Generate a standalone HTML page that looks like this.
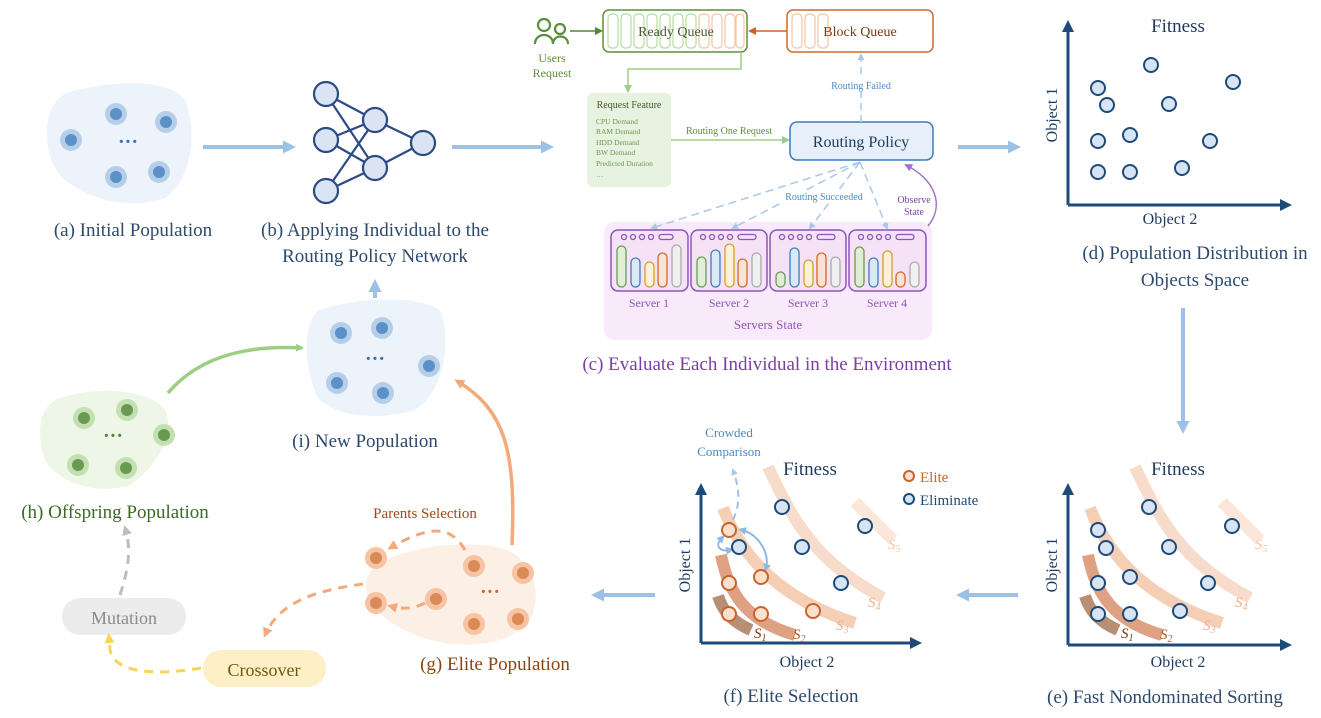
<!DOCTYPE html>
<html><head><meta charset="utf-8"><style>
html,body{margin:0;padding:0;background:#fff}
svg{display:block;font-family:"Liberation Serif",serif}
</style></head><body>
<svg width="1321" height="718" viewBox="0 0 1321 718" xmlns="http://www.w3.org/2000/svg">
<defs>
<marker id="ab" markerWidth="13" markerHeight="13" refX="9" refY="6.5" orient="auto" markerUnits="userSpaceOnUse"><path d="M0,0 L13,6.5 L0,13z" fill="#9dc1e6"/></marker>
<marker id="abs" markerWidth="7" markerHeight="7" refX="5" refY="3.5" orient="auto" markerUnits="userSpaceOnUse"><path d="M0,0 L7,3.5 L0,7z" fill="#a9c8e8"/></marker>
<marker id="abs2" markerWidth="8" markerHeight="8" refX="4" refY="4" orient="auto-start-reverse" markerUnits="userSpaceOnUse"><path d="M0,0 L8,4 L0,8z" fill="#8fb8e2"/></marker>
<marker id="ag" markerWidth="8" markerHeight="8" refX="6" refY="4" orient="auto" markerUnits="userSpaceOnUse"><path d="M0,0 L8,4 L0,8z" fill="#9ccf84"/></marker>
<marker id="agd" markerWidth="8" markerHeight="8" refX="6" refY="4" orient="auto" markerUnits="userSpaceOnUse"><path d="M0,0 L8,4 L0,8z" fill="#4f8a32"/></marker>
<marker id="ao" markerWidth="10" markerHeight="10" refX="7" refY="5" orient="auto" markerUnits="userSpaceOnUse"><path d="M0,0 L10,5 L0,10z" fill="#f4a97a"/></marker>
<marker id="aod" markerWidth="8" markerHeight="8" refX="6" refY="4" orient="auto" markerUnits="userSpaceOnUse"><path d="M0,0 L8,4 L0,8z" fill="#cc6326"/></marker>
<marker id="ay" markerWidth="10" markerHeight="10" refX="7" refY="5" orient="auto" markerUnits="userSpaceOnUse"><path d="M0,0 L10,5 L0,10z" fill="#f9d35a"/></marker>
<marker id="agr" markerWidth="10" markerHeight="10" refX="7" refY="5" orient="auto" markerUnits="userSpaceOnUse"><path d="M0,0 L10,5 L0,10z" fill="#bdbdbd"/></marker>
<marker id="ap" markerWidth="8" markerHeight="8" refX="6" refY="4" orient="auto" markerUnits="userSpaceOnUse"><path d="M0,0 L8,4 L0,8z" fill="#a670c8"/></marker>
<marker id="an" markerWidth="12" markerHeight="12" refX="8" refY="6" orient="auto" markerUnits="userSpaceOnUse"><path d="M0,0 L12,6 L0,12z" fill="#1e4a7a"/></marker>
</defs>

<g stroke="#9dc1e6" stroke-width="4" fill="none" marker-end="url(#ab)">
<line x1="203" y1="147" x2="292" y2="147"/>
<line x1="452" y1="147" x2="550" y2="147"/>
<line x1="958" y1="147" x2="1017" y2="147"/>
<line x1="1183" y1="308" x2="1183" y2="430"/>
<line x1="1018" y1="595" x2="960" y2="595"/>
<line x1="655" y1="595" x2="595" y2="595"/>
<line x1="375" y1="298" x2="375" y2="283"/>
</g>

<path d="M70,92 C110,80 170,78 185,100 C198,130 192,180 165,198 C130,210 90,200 65,180 C40,160 40,100 70,92z" fill="#edf3fa"/>
<g>
<circle cx="71" cy="140" r="11" fill="#b6cfe9"/><circle cx="71" cy="140" r="6" fill="#5b90c8"/>
<circle cx="116" cy="114" r="11" fill="#b6cfe9"/><circle cx="116" cy="114" r="6" fill="#5b90c8"/>
<circle cx="166" cy="122" r="11" fill="#b6cfe9"/><circle cx="166" cy="122" r="6" fill="#5b90c8"/>
<circle cx="116" cy="177" r="11" fill="#b6cfe9"/><circle cx="116" cy="177" r="6" fill="#5b90c8"/>
<circle cx="159" cy="172" r="11" fill="#b6cfe9"/><circle cx="159" cy="172" r="6" fill="#5b90c8"/>
<text x="128" y="148" font-size="20" fill="#3b72b0" text-anchor="middle" font-weight="bold">···</text>
</g>
<text x="133" y="236" font-size="19" fill="#2c4a6e" text-anchor="middle">(a) Initial Population</text>

<g stroke="#2c4a86" stroke-width="2.2">
<line x1="326" y1="94" x2="375" y2="120"/><line x1="326" y1="94" x2="375" y2="168"/>
<line x1="326" y1="140" x2="375" y2="120"/><line x1="326" y1="140" x2="375" y2="168"/>
<line x1="326" y1="191" x2="375" y2="120"/><line x1="326" y1="191" x2="375" y2="168"/>
<line x1="375" y1="120" x2="423" y2="143"/><line x1="375" y1="168" x2="423" y2="143"/>
</g>
<g fill="#dbe4f3" stroke="#2c4a86" stroke-width="2.2">
<circle cx="326" cy="94" r="12"/><circle cx="326" cy="140" r="12"/><circle cx="326" cy="191" r="12"/>
<circle cx="375" cy="120" r="12"/><circle cx="375" cy="168" r="12"/><circle cx="423" cy="143" r="12"/>
</g>
<text x="375" y="236" font-size="19" fill="#2c4a6e" text-anchor="middle">(b) Applying Individual to the</text>
<text x="375" y="262" font-size="19" fill="#2c4a6e" text-anchor="middle">Routing Policy Network</text>

<g fill="none" stroke="#5c8f3a" stroke-width="2.2">
<circle cx="544" cy="25" r="6"/><path d="M535,44 C535,32 553,32 553,44"/>
<circle cx="560" cy="29" r="5"/><path d="M553,44 C553,34 568,34 568,44"/>
</g>
<text x="552" y="62" font-size="12" fill="#5c8f3a" text-anchor="middle">Users</text>
<text x="552" y="77" font-size="12" fill="#5c8f3a" text-anchor="middle">Request</text>
<line x1="570" y1="31" x2="601" y2="31" stroke="#4f8a32" stroke-width="1.5" marker-end="url(#agd)"/>
<rect x="603" y="10" width="144" height="42" rx="6" fill="#fff" stroke="#5c8f3a" stroke-width="1.5"/>
<g fill="none" stroke-width="1.2">
<g stroke="#b6dba0">
<rect x="608" y="14" width="10" height="34" rx="4"/><rect x="621" y="14" width="10" height="34" rx="4"/><rect x="634" y="14" width="10" height="34" rx="4"/><rect x="647" y="14" width="10" height="34" rx="4"/><rect x="660" y="14" width="10" height="34" rx="4"/><rect x="673" y="14" width="10" height="34" rx="4"/><rect x="686" y="14" width="10" height="34" rx="4"/>
</g>
<g stroke="#f6c3a3">
<rect x="699" y="14" width="10" height="34" rx="4"/><rect x="712" y="14" width="10" height="34" rx="4"/><rect x="725" y="14" width="10" height="34" rx="4"/><rect x="736" y="14" width="8" height="34" rx="4"/>
<rect x="792" y="14" width="10" height="34" rx="4"/><rect x="805" y="14" width="10" height="34" rx="4"/><rect x="818" y="14" width="10" height="34" rx="4"/>
</g>
</g>
<text x="676" y="36" font-size="14" fill="#4a5a3a" text-anchor="middle">Ready Queue</text>
<rect x="787" y="10" width="146" height="42" rx="6" fill="none" stroke="#d0692a" stroke-width="1.5"/>
<text x="860" y="36" font-size="14" fill="#7a3a15" text-anchor="middle">Block Queue</text>
<line x1="787" y1="31" x2="750" y2="31" stroke="#cc6326" stroke-width="1.5" marker-end="url(#aod)"/>
<path d="M741,52 L741,69 L628,69 L628,91" fill="none" stroke="#9ccf84" stroke-width="1.5" marker-end="url(#ag)"/>
<rect x="587" y="93" width="84" height="94" rx="6" fill="#e8f2e0"/>
<text x="629" y="108" font-size="10" fill="#3c5a2a" text-anchor="middle">Request Feature</text>
<g font-size="7.5" fill="#6a9a52">
<text x="596" y="124">CPU Demand</text><text x="596" y="134">RAM Demand</text><text x="596" y="145">HDD Demand</text><text x="596" y="155">BW Demand</text><text x="596" y="166">Predicted Duration</text><text x="596" y="177">…</text>
</g>
<line x1="671" y1="140" x2="788" y2="140" stroke="#9ccf84" stroke-width="1.5" marker-end="url(#ag)"/>
<text x="729" y="134" font-size="10" fill="#5c8f3a" text-anchor="middle">Routing One Request</text>
<rect x="790" y="122" width="143" height="38" rx="7" fill="#e6effa" stroke="#3b7bbf" stroke-width="1.5"/>
<text x="861" y="147" font-size="16" fill="#1f3b5e" text-anchor="middle">Routing Policy</text>
<line x1="861" y1="122" x2="861" y2="55" stroke="#a9c8e8" stroke-width="1.5" stroke-dasharray="7,5" marker-end="url(#abs)"/>
<rect x="823" y="79" width="76" height="12" fill="#fff"/>
<text x="861" y="89" font-size="10" fill="#4a8ac4" text-anchor="middle">Routing Failed</text>
<rect x="604" y="222" width="328" height="118" rx="10" fill="#f9eafb"/>
<g stroke="#a9c8e8" stroke-width="1.5" stroke-dasharray="8,5" fill="none" marker-end="url(#abs)">
<line x1="860" y1="162" x2="652" y2="228"/>
<line x1="860" y1="162" x2="733" y2="228"/>
<line x1="860" y1="162" x2="810" y2="228"/>
<line x1="860" y1="162" x2="887" y2="228"/>
</g>
<rect x="780" y="190" width="88" height="12" fill="#fff"/>
<text x="824" y="200" font-size="10" fill="#4a8ac4" text-anchor="middle">Routing Succeeded</text>
<path d="M928,226 C945,205 935,180 906,165" fill="none" stroke="#a670c8" stroke-width="1.5" marker-end="url(#ap)"/>
<text x="914" y="203" font-size="10" fill="#7b3fa6" text-anchor="middle">Observe</text>
<text x="914" y="215" font-size="10" fill="#7b3fa6" text-anchor="middle">State</text>
<rect x="611" y="230" width="77" height="61" rx="7" fill="#f5e2f7" stroke="#8f55b8" stroke-width="1.5"/>
<rect x="691" y="230" width="76" height="61" rx="7" fill="#f5e2f7" stroke="#8f55b8" stroke-width="1.5"/>
<rect x="770" y="230" width="76" height="61" rx="7" fill="#f5e2f7" stroke="#8f55b8" stroke-width="1.5"/>
<rect x="849" y="230" width="77" height="61" rx="7" fill="#f5e2f7" stroke="#8f55b8" stroke-width="1.5"/>
<g fill="none" stroke="#8f55b8" stroke-width="1.3">
<circle cx="624" cy="237" r="2.5"/><circle cx="633" cy="237" r="2.5"/><circle cx="642" cy="237" r="2.5"/><circle cx="651" cy="237" r="2.5"/><rect x="659" y="234.5" width="14" height="5" rx="2.5"/>
<circle cx="703" cy="237" r="2.5"/><circle cx="712" cy="237" r="2.5"/><circle cx="721" cy="237" r="2.5"/><circle cx="730" cy="237" r="2.5"/><rect x="738" y="234.5" width="18" height="5" rx="2.5"/>
<circle cx="782" cy="237" r="2.5"/><circle cx="791" cy="237" r="2.5"/><circle cx="800" cy="237" r="2.5"/><circle cx="809" cy="237" r="2.5"/><rect x="817" y="234.5" width="18" height="5" rx="2.5"/>
<circle cx="861" cy="237" r="2.5"/><circle cx="870" cy="237" r="2.5"/><circle cx="879" cy="237" r="2.5"/><circle cx="888" cy="237" r="2.5"/><rect x="896" y="234.5" width="18" height="5" rx="2.5"/>
</g>
<g stroke-width="1.3">
<rect x="617" y="246" width="9" height="41" rx="4.5" fill="#dfeed4" stroke="#6a9a52"/>
<rect x="631" y="258" width="9" height="29" rx="4.5" fill="#dbe8f6" stroke="#3b7bbf"/>
<rect x="645" y="262" width="9" height="25" rx="4.5" fill="#fbf0da" stroke="#d4a020"/>
<rect x="658" y="253" width="9" height="34" rx="4.5" fill="#fbe2d4" stroke="#d0692a"/>
<rect x="672" y="245" width="9" height="42" rx="4.5" fill="#f0f0f0" stroke="#aaa"/>
<rect x="697" y="257" width="9" height="30" rx="4.5" fill="#dfeed4" stroke="#6a9a52"/>
<rect x="711" y="250" width="9" height="37" rx="4.5" fill="#dbe8f6" stroke="#3b7bbf"/>
<rect x="725" y="244" width="9" height="43" rx="4.5" fill="#fbf0da" stroke="#d4a020"/>
<rect x="738" y="259" width="9" height="28" rx="4.5" fill="#fbe2d4" stroke="#d0692a"/>
<rect x="752" y="253" width="9" height="34" rx="4.5" fill="#f0f0f0" stroke="#aaa"/>
<rect x="776" y="272" width="9" height="15" rx="4.5" fill="#dfeed4" stroke="#6a9a52"/>
<rect x="790" y="248" width="9" height="39" rx="4.5" fill="#dbe8f6" stroke="#3b7bbf"/>
<rect x="804" y="260" width="9" height="27" rx="4.5" fill="#fbf0da" stroke="#d4a020"/>
<rect x="817" y="253" width="9" height="34" rx="4.5" fill="#fbe2d4" stroke="#d0692a"/>
<rect x="831" y="257" width="9" height="30" rx="4.5" fill="#f0f0f0" stroke="#aaa"/>
<rect x="855" y="247" width="9" height="40" rx="4.5" fill="#dfeed4" stroke="#6a9a52"/>
<rect x="869" y="258" width="9" height="29" rx="4.5" fill="#dbe8f6" stroke="#3b7bbf"/>
<rect x="883" y="251" width="9" height="36" rx="4.5" fill="#fbf0da" stroke="#d4a020"/>
<rect x="896" y="272" width="9" height="15" rx="4.5" fill="#fbe2d4" stroke="#d0692a"/>
<rect x="910" y="262" width="9" height="25" rx="4.5" fill="#f0f0f0" stroke="#aaa"/>
</g>
<g font-size="12" fill="#8f55b8" text-anchor="middle">
<text x="649" y="307">Server 1</text><text x="729" y="307">Server 2</text><text x="808" y="307">Server 3</text><text x="887" y="307">Server 4</text>
<text x="768" y="329" font-size="13">Servers State</text>
</g>
<text x="767" y="370" font-size="19" fill="#7b3fa6" text-anchor="middle">(c) Evaluate Each Individual in the Environment</text>

<g stroke="#1e4a7a" stroke-width="3" fill="none">
<line x1="1068" y1="205" x2="1068" y2="24" marker-end="url(#an)"/>
<line x1="1068" y1="205" x2="1288" y2="205" marker-end="url(#an)"/>
</g>
<text x="1178" y="32" font-size="19" fill="#1e3a5e" text-anchor="middle">Fitness</text>
<text x="1170" y="224" font-size="16" fill="#1e3a5e" text-anchor="middle">Object 2</text>
<text transform="translate(1057,115) rotate(-90)" font-size="16" fill="#1e3a5e" text-anchor="middle">Object 1</text>
<g fill="#d6e4f3" stroke="#1e4a7a" stroke-width="2">
<circle cx="1098" cy="88" r="7"/><circle cx="1151" cy="65" r="7"/><circle cx="1233" cy="82" r="7"/><circle cx="1107" cy="105" r="7"/><circle cx="1169" cy="104" r="7"/><circle cx="1098" cy="141" r="7"/><circle cx="1130" cy="135" r="7"/><circle cx="1210" cy="141" r="7"/><circle cx="1098" cy="172" r="7"/><circle cx="1130" cy="172" r="7"/><circle cx="1182" cy="168" r="7"/>
</g>
<text x="1195" y="259" font-size="19" fill="#2c4a6e" text-anchor="middle">(d) Population Distribution in</text>
<text x="1195" y="286" font-size="19" fill="#2c4a6e" text-anchor="middle">Objects Space</text>

<g id="bandsE" fill="none" stroke-width="12">
<path d="M1260,540 C1245,525 1235,515 1222,502" stroke="#fbe7da"/>
<path d="M1250,598 C1180,560 1160,520 1135,467" stroke="#f8dccb"/>
<path d="M1222,623 C1150,600 1110,560 1090,508" stroke="#f5cfb5"/>
<path d="M1162,635 C1110,620 1095,590 1088,555" stroke="#dea184"/>
<path d="M1118,630 C1100,622 1090,612 1085,596" stroke="#b88e75"/>
</g>
<g stroke="#1e4a7a" stroke-width="3" fill="none">
<line x1="1068" y1="645" x2="1068" y2="487" marker-end="url(#an)"/>
<line x1="1068" y1="645" x2="1288" y2="645" marker-end="url(#an)"/>
</g>
<text x="1178" y="475" font-size="19" fill="#1e3a5e" text-anchor="middle">Fitness</text>
<text x="1178" y="667" font-size="16" fill="#1e3a5e" text-anchor="middle">Object 2</text>
<text transform="translate(1057,565) rotate(-90)" font-size="16" fill="#1e3a5e" text-anchor="middle">Object 1</text>
<g fill="#d6e4f3" stroke="#1e4a7a" stroke-width="2">
<circle cx="1098" cy="530" r="7"/><circle cx="1106" cy="548" r="7"/><circle cx="1149" cy="507" r="7"/><circle cx="1169" cy="547" r="7"/><circle cx="1232" cy="526" r="7"/><circle cx="1098" cy="583" r="7"/><circle cx="1130" cy="577" r="7"/><circle cx="1208" cy="583" r="7"/><circle cx="1098" cy="614" r="7"/><circle cx="1130" cy="614" r="7"/><circle cx="1180" cy="611" r="7"/>
</g>
<g font-size="15" font-style="italic">
<text x="1121" y="638" fill="#7a3a15">S<tspan font-size="10" dy="3">1</tspan></text>
<text x="1160" y="639" fill="#b45a25">S<tspan font-size="10" dy="3">2</tspan></text>
<text x="1203" y="630" fill="#f0b088">S<tspan font-size="10" dy="3">3</tspan></text>
<text x="1235" y="607" fill="#f0b088">S<tspan font-size="10" dy="3">4</tspan></text>
<text x="1255" y="549" fill="#f5c6a6">S<tspan font-size="10" dy="3">5</tspan></text>
</g>
<text x="1165" y="703" font-size="19" fill="#2c4a6e" text-anchor="middle">(e) Fast Nondominated Sorting</text>

<g transform="translate(-367,0)">
<use href="#bandsE"/>
</g>
<g stroke="#1e4a7a" stroke-width="3" fill="none">
<line x1="701" y1="643" x2="701" y2="487" marker-end="url(#an)"/>
<line x1="701" y1="643" x2="918" y2="643" marker-end="url(#an)"/>
</g>
<text x="810" y="475" font-size="19" fill="#1e3a5e" text-anchor="middle">Fitness</text>
<text x="807" y="667" font-size="16" fill="#1e3a5e" text-anchor="middle">Object 2</text>
<text transform="translate(690,565) rotate(-90)" font-size="16" fill="#1e3a5e" text-anchor="middle">Object 1</text>
<path d="M733,520 C742,500 738,485 733,470" fill="none" stroke="#9dc1e6" stroke-width="2" stroke-dasharray="7,5" marker-end="url(#abs)"/>
<path d="M742,530 C760,535 770,555 766,568" fill="none" stroke="#8fb8e2" stroke-width="2" marker-start="url(#abs2)" marker-end="url(#abs2)"/>
<path d="M722,538 C714,546 720,552 730,550" fill="none" stroke="#8fb8e2" stroke-width="2" marker-start="url(#abs2)" marker-end="url(#abs2)"/>
<text x="729" y="437" font-size="13" fill="#4a8ac4" text-anchor="middle">Crowded</text>
<text x="729" y="456" font-size="13" fill="#4a8ac4" text-anchor="middle">Comparison</text>
<g fill="#d6e4f3" stroke="#1e4a7a" stroke-width="2">
<circle cx="782" cy="507" r="7"/><circle cx="865" cy="526" r="7"/><circle cx="739" cy="547" r="7"/><circle cx="802" cy="547" r="7"/><circle cx="841" cy="583" r="7"/>
</g>
<g fill="#fbe0d0" stroke="#cc6326" stroke-width="2">
<circle cx="729" cy="530" r="7"/><circle cx="761" cy="577" r="7"/><circle cx="729" cy="583" r="7"/><circle cx="729" cy="614" r="7"/><circle cx="761" cy="614" r="7"/><circle cx="813" cy="611" r="7"/>
</g>
<g font-size="15" font-style="italic">
<text x="754" y="638" fill="#7a3a15">S<tspan font-size="10" dy="3">1</tspan></text>
<text x="793" y="639" fill="#b45a25">S<tspan font-size="10" dy="3">2</tspan></text>
<text x="836" y="630" fill="#f0b088">S<tspan font-size="10" dy="3">3</tspan></text>
<text x="868" y="607" fill="#f0b088">S<tspan font-size="10" dy="3">4</tspan></text>
<text x="888" y="549" fill="#f5c6a6">S<tspan font-size="10" dy="3">5</tspan></text>
</g>
<circle cx="909" cy="476" r="5" fill="#fbe0d0" stroke="#cc6326" stroke-width="2"/>
<text x="920" y="482" font-size="15" fill="#cc6326">Elite</text>
<circle cx="909" cy="499" r="5" fill="#d6e4f3" stroke="#1e4a7a" stroke-width="2"/>
<text x="920" y="505" font-size="15" fill="#1e4a7a">Eliminate</text>
<text x="791" y="702" font-size="19" fill="#2c4a6e" text-anchor="middle">(f) Elite Selection</text>

<path d="M320,310 C360,296 420,296 440,310 C452,340 445,390 415,410 C380,420 340,418 320,400 C305,380 300,320 320,310z" fill="#edf3fa"/>
<g>
<circle cx="341" cy="333" r="11" fill="#b6cfe9"/><circle cx="341" cy="333" r="6" fill="#5b90c8"/>
<circle cx="382" cy="328" r="11" fill="#b6cfe9"/><circle cx="382" cy="328" r="6" fill="#5b90c8"/>
<circle cx="429" cy="366" r="11" fill="#b6cfe9"/><circle cx="429" cy="366" r="6" fill="#5b90c8"/>
<circle cx="337" cy="383" r="11" fill="#b6cfe9"/><circle cx="337" cy="383" r="6" fill="#5b90c8"/>
<circle cx="383" cy="393" r="11" fill="#b6cfe9"/><circle cx="383" cy="393" r="6" fill="#5b90c8"/>
<text x="375" y="365" font-size="20" fill="#3b72b0" text-anchor="middle" font-weight="bold">···</text>
</g>
<text x="365" y="447" font-size="19" fill="#2c4a6e" text-anchor="middle">(i) New Population</text>

<path d="M60,398 C100,385 150,390 165,410 C175,430 160,465 130,485 C100,495 60,485 45,460 C35,430 40,405 60,398z" fill="#eef6e8"/>
<g>
<circle cx="84" cy="418" r="11" fill="#c3e0b0"/><circle cx="84" cy="418" r="6" fill="#6a9a52"/>
<circle cx="127" cy="410" r="11" fill="#c3e0b0"/><circle cx="127" cy="410" r="6" fill="#6a9a52"/>
<circle cx="164" cy="435" r="11" fill="#c3e0b0"/><circle cx="164" cy="435" r="6" fill="#6a9a52"/>
<circle cx="78" cy="465" r="11" fill="#c3e0b0"/><circle cx="78" cy="465" r="6" fill="#6a9a52"/>
<circle cx="126" cy="468" r="11" fill="#c3e0b0"/><circle cx="126" cy="468" r="6" fill="#6a9a52"/>
<text x="113" y="442" font-size="20" fill="#4f8a32" text-anchor="middle" font-weight="bold">···</text>
</g>
<path d="M168,393 C200,355 250,345 302,348" fill="none" stroke="#9ccf84" stroke-width="3.5" marker-end="url(#ag)"/>
<text x="115" y="518" font-size="19" fill="#3c6a26" text-anchor="middle">(h) Offspring Population</text>

<path d="M375,565 C410,545 470,540 500,548 C530,555 545,590 530,620 C510,645 470,650 430,640 C395,630 345,600 375,565z" fill="#fcf0e6"/>
<g>
<circle cx="474" cy="566" r="11" fill="#f6c3a3"/><circle cx="474" cy="566" r="6" fill="#d98a57"/>
<circle cx="523" cy="573" r="11" fill="#f6c3a3"/><circle cx="523" cy="573" r="6" fill="#d98a57"/>
<circle cx="436" cy="599" r="11" fill="#f6c3a3"/><circle cx="436" cy="599" r="6" fill="#d98a57"/>
<circle cx="474" cy="624" r="11" fill="#f6c3a3"/><circle cx="474" cy="624" r="6" fill="#d98a57"/>
<circle cx="518" cy="619" r="11" fill="#f6c3a3"/><circle cx="518" cy="619" r="6" fill="#d98a57"/>
<text x="490" y="598" font-size="20" fill="#d0692a" text-anchor="middle" font-weight="bold">···</text>
<circle cx="376" cy="558" r="11" fill="#f6c3a3"/><circle cx="376" cy="558" r="6" fill="#d98a57"/>
<circle cx="376" cy="603" r="11" fill="#f6c3a3"/><circle cx="376" cy="603" r="6" fill="#d98a57"/>
</g>
<path d="M512,545 C516,450 505,410 457,381" fill="none" stroke="#f4a97a" stroke-width="3.5" marker-end="url(#ao)"/>
<text x="425" y="518" font-size="15" fill="#9a4a1a" text-anchor="middle">Parents Selection</text>
<g fill="none" stroke="#f4a97a" stroke-width="3" stroke-dasharray="9,7">
<path d="M465,550 C450,525 430,525 390,548" marker-end="url(#ao)"/>
<path d="M425,603 C415,608 405,610 390,606" marker-end="url(#ao)"/>
<path d="M363,584 C320,590 280,600 265,635" marker-end="url(#ao)"/>
</g>
<rect x="62" y="598" width="124" height="37" rx="18" fill="#ececec"/>
<text x="124" y="624" font-size="18" fill="#8a8a8a" text-anchor="middle">Mutation</text>
<rect x="203" y="650" width="123" height="37" rx="18" fill="#fdf0c6"/>
<text x="264" y="676" font-size="18" fill="#6b5a10" text-anchor="middle">Crossover</text>
<path d="M201,668 C160,675 115,675 110,650 L109,636" fill="none" stroke="#f9d35a" stroke-width="3" stroke-dasharray="9,7" marker-end="url(#ay)"/>
<path d="M120,595 C128,570 132,550 125,528" fill="none" stroke="#bdbdbd" stroke-width="3" stroke-dasharray="9,7" marker-end="url(#agr)"/>
<text x="495" y="670" font-size="19" fill="#8b4513" text-anchor="middle">(g) Elite Population</text>
</svg>
</body></html>
